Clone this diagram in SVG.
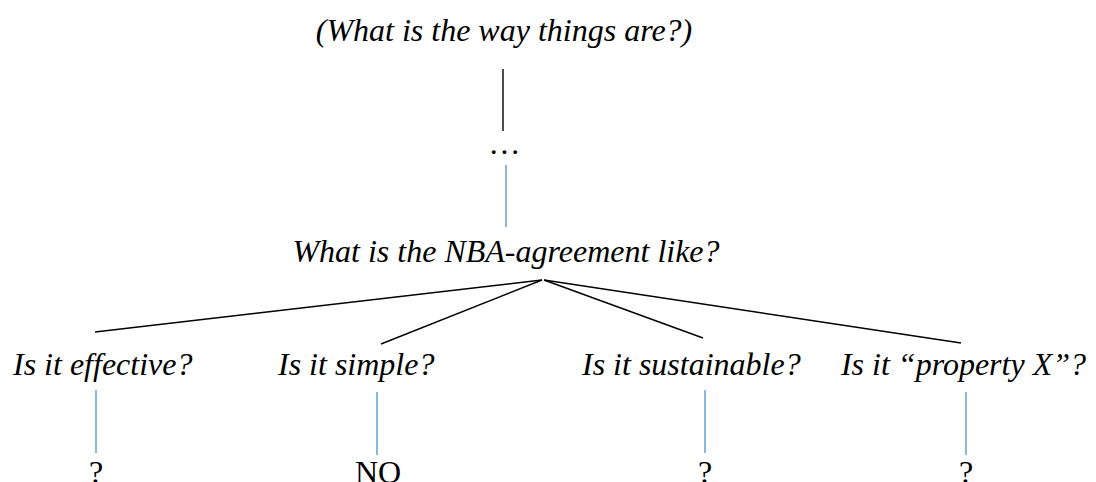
<svg xmlns="http://www.w3.org/2000/svg" width="1096" height="482" viewBox="0 0 1096 482">
  <style>
    text { font-family: "Liberation Serif", "Times New Roman", serif; font-size: 32px; fill: #000; }
    .q { font-style: italic; }
    .mid { text-anchor: middle; }
    .edge { stroke: #000; stroke-width: 1.4; fill: none; }
    .answer { stroke: #5b9bd5; stroke-width: 1.4; fill: none; }
  </style>
  <rect width="1096" height="482" fill="#fff"/>

  <g id="connectors">
    <line class="edge" x1="503" y1="69" x2="503" y2="131"/>
    <line class="answer" x1="506" y1="165" x2="506" y2="227"/>
    <line class="edge" x1="542" y1="280" x2="95" y2="332"/>
    <line class="edge" x1="542" y1="280" x2="381" y2="344"/>
    <line class="edge" x1="544" y1="280" x2="703" y2="338"/>
    <line class="edge" x1="544" y1="280" x2="961" y2="343"/>
    <line class="answer" x1="96" y1="390" x2="96" y2="453"/>
    <line class="answer" x1="377" y1="392" x2="377" y2="455"/>
    <line class="answer" x1="705" y1="390" x2="705" y2="453"/>
    <line class="answer" x1="966" y1="392" x2="966" y2="455"/>
  </g>

  <g id="root"><text class="q mid" x="504" y="41">(What is the way things are?)</text></g>
  <g id="ellipsis"><text class="q mid" x="505" y="154">…</text></g>
  <g id="nba"><text class="q mid" x="506" y="262">What is the NBA-agreement like?</text></g>

  <g id="effective"><text class="q" x="13" y="375">Is it effective?</text></g>
  <g id="simple"><text class="q" x="278" y="375">Is it simple?</text></g>
  <g id="sustainable"><text class="q" x="582" y="375">Is it sustainable?</text></g>
  <g id="propertyX"><text class="q" x="1086" y="375" text-anchor="end">Is it “property X”?</text></g>

  <g id="effective-answer"><text class="mid" x="96" y="483">?</text></g>
  <g id="simple-answer"><text class="mid" x="378" y="483">NO</text></g>
  <g id="sustainable-answer"><text class="mid" x="705" y="483">?</text></g>
  <g id="propertyX-answer"><text class="mid" x="966" y="483">?</text></g>
</svg>
